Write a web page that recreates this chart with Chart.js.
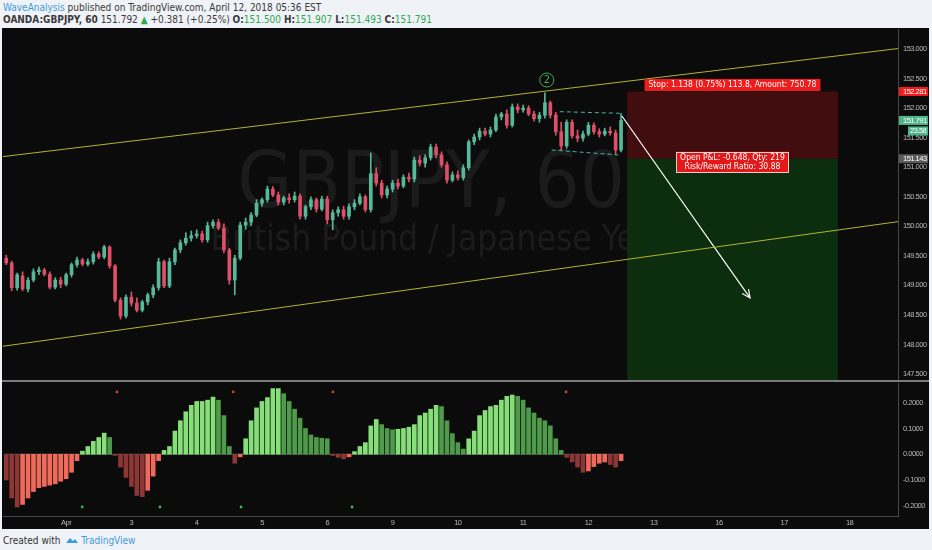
<!DOCTYPE html>
<html lang="en">
<head>
  <meta charset="UTF-8" />
  <title>GBPJPY, 60</title>
  <script src="https://cdn.jsdelivr.net/npm/chart.js"></script>
  <style>
    body { margin: 0; width: 932px; height: 550px; overflow: hidden; position: relative;
           background: #eff2f6; font-family: "Liberation Sans Narrow", "DejaVu Sans Condensed", sans-serif; }
    .hdr { position: absolute; left: 3px; font-size: 10px; color: #3a3a3a; white-space: nowrap; }
    .up { color: #2fa84f; }
    .blue { color: #3d9be0; }
    #frame { position: absolute; left: 2px; top: 28px; width: 927px; height: 501px; background: #0b0b0b; }
    #sep { position: absolute; left: 2px; top: 380px; width: 927px; height: 2px; background: #7a7a7a; }
    canvas { position: absolute; left: 0; }
    #foot { position: absolute; left: 3px; top: 535px; font-size: 10px; color: #333; white-space: nowrap; }
  </style>
</head>
<body>

  <div class="hdr" style="top: 2px;"><span class="blue">WaveAnalysis</span> published on TradingView.com, April 12, 2018 05:36 EST</div>
  <div class="hdr" style="top: 14px;"><b>OANDA:GBPJPY, 60</b> 151.792 <span class="up">&#9650;</span> +0.381 (+0.25%) <b>O:</b><span class="up">151.500</span> <b>H:</b><span class="up">151.907</span> <b>L:</b><span class="up">151.493</span> <b>C:</b><span class="up">151.791</span></div>

  <div id="frame"></div>
  <canvas id="mainChart" width="932" height="352" style="top: 29px;"></canvas>
  <div id="sep"></div>
  <canvas id="oscChart" width="932" height="146" style="top: 382px;"></canvas>

  <div id="foot">Created with
    <svg width="12" height="9" viewBox="0 0 12 9" style="vertical-align: -1px; margin-left: 3px;">
      <path d="M0 7 L4 2 L7 5 L9 3 L12 7 Z" fill="#3d9be0" />
    </svg>
    <span class="blue">TradingView</span></div>

  <script>
    // ---- data (hours counted on trading time from Apr 2 00:00) ----
    const candleStart = -22;
    const candleStep = 2;

    const candleOpen = [
      149.46, 149.38, 148.96, 149.16, 148.94, 149.09, 149.23, 149.26, 149.19, 148.97, 149.09,
      149.02, 149.18, 149.35, 149.43, 149.36, 149.40, 149.53, 149.48, 149.65, 149.33,
      148.75, 148.48, 148.80, 148.70, 148.58, 148.72, 148.84, 148.96, 149.40, 148.99,
      149.40, 149.60, 149.72, 149.80, 149.84, 149.87, 149.77, 150.01, 150.07, 149.97,
      149.60, 149.09, 149.46, 150.02, 150.07, 150.19, 150.39, 150.45, 150.63, 150.53,
      150.41, 150.48, 150.45, 150.51, 150.17, 150.33, 150.45, 150.29, 150.46, 150.11,
      150.23, 150.28, 150.17, 150.33, 150.39, 150.50, 150.28, 150.89, 150.73, 150.53,
      150.63, 150.73, 150.68, 150.83, 150.80, 151.12, 151.07, 151.16, 151.34, 151.21,
      151.04, 150.78, 150.87, 150.82, 150.99, 151.43, 151.51, 151.61, 151.56, 151.63,
      151.85, 151.90, 151.71, 152.02, 151.97, 152.00, 151.90, 151.82, 151.88, 152.09,
      151.88, 151.60, 151.36, 151.76, 151.53, 151.49, 151.56, 151.71, 151.60, 151.56,
      151.61, 151.58, 151.29
    ];
    const candleHigh = [
      149.51, 149.41, 149.21, 149.23, 149.13, 149.28, 149.31, 149.29, 149.23, 149.13, 149.14,
      149.21, 149.38, 149.48, 149.46, 149.45, 149.57, 149.57, 149.68, 149.67, 149.35,
      148.79, 148.84, 148.89, 148.79, 148.75, 148.87, 149.01, 149.46, 149.43, 149.46,
      149.63, 149.77, 149.89, 149.92, 149.94, 149.92, 150.07, 150.11, 150.12, 150.04,
      149.63, 149.51, 150.07, 150.14, 150.23, 150.45, 150.48, 150.68, 150.67, 150.58,
      150.51, 150.55, 150.58, 150.55, 150.36, 150.50, 150.48, 150.51, 150.51, 150.28,
      150.33, 150.34, 150.38, 150.45, 150.55, 150.53, 151.24, 150.99, 150.78, 150.68,
      150.78, 150.80, 150.87, 150.90, 151.17, 151.19, 151.21, 151.39, 151.39, 151.26,
      151.09, 150.92, 150.94, 151.04, 151.46, 151.56, 151.66, 151.66, 151.68, 151.90,
      151.93, 151.97, 152.07, 152.07, 152.05, 152.04, 151.95, 151.93, 152.26, 152.12,
      151.93, 151.76, 151.80, 151.80, 151.63, 151.61, 151.76, 151.75, 151.65, 151.66,
      151.68, 151.63, 151.907
    ];
    const candleLow = [
      149.35, 148.91, 148.92, 148.91, 148.89, 149.06, 149.18, 149.16, 148.94, 148.94, 148.96,
      148.99, 149.14, 149.31, 149.33, 149.33, 149.36, 149.45, 149.45, 149.29, 148.72,
      148.43, 148.45, 148.65, 148.55, 148.55, 148.67, 148.79, 148.92, 148.96, 148.96,
      149.35, 149.55, 149.68, 149.75, 149.80, 149.73, 149.73, 149.97, 149.94, 149.55,
      149.02, 148.84, 149.43, 149.95, 150.01, 150.16, 150.34, 150.41, 150.50, 150.36,
      150.36, 150.39, 150.41, 150.12, 150.12, 150.28, 150.24, 150.26, 150.04, 149.94,
      150.17, 150.12, 150.12, 150.28, 150.36, 150.24, 150.24, 150.68, 150.48, 150.48,
      150.58, 150.63, 150.65, 150.75, 150.75, 151.02, 151.00, 151.12, 151.16, 151.00,
      150.73, 150.75, 150.78, 150.78, 150.95, 151.38, 151.46, 151.53, 151.51, 151.60,
      151.80, 151.66, 151.68, 151.92, 151.93, 151.87, 151.78, 151.76, 151.83, 151.83,
      151.54, 151.29, 151.32, 151.49, 151.43, 151.44, 151.53, 151.56, 151.51, 151.53,
      151.54, 151.22, 151.26
    ];
    const candleClose = [
      149.38, 148.96, 149.18, 148.94, 149.09, 149.23, 149.26, 149.19, 148.97, 149.09, 149.02,
      149.18, 149.35, 149.43, 149.36, 149.40, 149.53, 149.48, 149.65, 149.33, 148.75,
      148.48, 148.80, 148.70, 148.58, 148.72, 148.84, 148.96, 149.40, 148.99, 149.40,
      149.60, 149.72, 149.80, 149.84, 149.87, 149.77, 150.01, 150.07, 149.97, 149.60,
      149.09, 149.46, 150.02, 150.07, 150.19, 150.39, 150.45, 150.63, 150.53, 150.41,
      150.48, 150.45, 150.51, 150.17, 150.33, 150.45, 150.29, 150.46, 150.11, 150.23,
      150.28, 150.17, 150.33, 150.39, 150.50, 150.28, 150.89, 150.73, 150.53, 150.63,
      150.73, 150.68, 150.83, 150.80, 151.12, 151.07, 151.16, 151.34, 151.21, 151.04,
      150.78, 150.87, 150.82, 150.99, 151.43, 151.51, 151.61, 151.56, 151.63, 151.85,
      151.90, 151.71, 152.02, 151.97, 152.00, 151.90, 151.82, 151.88, 152.09, 151.88,
      151.60, 151.36, 151.76, 151.53, 151.49, 151.56, 151.71, 151.60, 151.56, 151.61,
      151.58, 151.29, 151.791
    ];

    const oscValues = [
      -0.10, -0.17, -0.205, -0.195, -0.17, -0.145, -0.13, -0.125, -0.12, -0.115, -0.105,
      -0.095, -0.07, -0.025, 0.012, 0.03, 0.05, 0.065, 0.082, 0.065, -0.005,
      -0.05, -0.09, -0.125, -0.16, -0.165, -0.14, -0.085, -0.025, 0.015, 0.03,
      0.09, 0.13, 0.165, 0.19, 0.205, 0.205, 0.21, 0.222, 0.21, 0.15,
      0.03, -0.035, -0.01, 0.06, 0.13, 0.18, 0.205, 0.22, 0.255, 0.255,
      0.235, 0.205, 0.175, 0.14, 0.10, 0.075, 0.065, 0.062, 0.06, -0.005,
      -0.012, -0.018, -0.01, 0.01, 0.03, 0.045, 0.11, 0.135, 0.115, 0.10,
      0.095, 0.097, 0.10, 0.105, 0.115, 0.15, 0.16, 0.175, 0.19, 0.185,
      0.13, 0.08, 0.045, 0.02, 0.06, 0.09, 0.15, 0.17, 0.185, 0.19,
      0.21, 0.225, 0.23, 0.225, 0.21, 0.18, 0.16, 0.14, 0.13, 0.11,
      0.06, 0.015, -0.012, -0.03, -0.05, -0.07, -0.065, -0.048, -0.035, -0.03,
      -0.04, -0.05, -0.025
    ];
    const oscTopDots = [18.7, 61.4, 98.1, 183.8];
    const oscTopDotValue = 0.242;
    const oscBottomDots = [5.9, 34.5, 64.3, 105.1];
    const oscBottomDotValue = -0.205;

    const dayTicks = [0, 24, 48, 72, 96, 120, 144, 168, 192, 216, 240, 264, 288];
    const dayLabels = ["Apr", "3", "4", "5", "6", "9", "10", "11", "12", "13", "16", "17", "18"];
    const priceTicks = [147.5, 148, 148.5, 149, 149.5, 150, 150.5, 151, 151.5, 152, 152.5, 153];
    const oscTicks = [-0.2, -0.1, 0, 0.1, 0.2];

    // drawings on the price pane
    const upperTrend = [{ x: -23.2, y: 151.179 }, { x: 305.8, y: 153.007 }];
    const lowerTrend = [{ x: -23.2, y: 147.970 }, { x: 305.8, y: 150.078 }];
    const flagTop = [{ x: 181.5, y: 151.939 }, { x: 203.6, y: 151.912 }];
    const flagBottom = [{ x: 178.5, y: 151.291 }, { x: 203.0, y: 151.207 }];
    const arrowPath = [{ x: 204.3, y: 151.866 }, { x: 251.4, y: 148.787 }];
    const waveMark = { x: 176.7, y: 152.475, text: "2" };
    const position = { from: 206.2, to: 283.7, stop: 152.281, entry: 151.143, target: 147.0 };
    const stopText = "Stop: 1.138 (0.75%) 113.8, Amount: 750.78";
    const pnlText = ["Open P&L: -0.648, Qty: 219", "Risk/Reward Ratio: 30.88"];
    const lastPrice = 151.791;
    const countdownText = "23.58";
    const symbolText = "GBPJPY, 60";
    const descText = "British Pound / Japanese Yen";

    // ---- styles ----
    const xMin = -23.2, xMax = 305.8;
    const narrow = '"Liberation Sans Narrow", "DejaVu Sans Condensed", sans-serif';
    const tickFont = '"Liberation Sans", Arial, sans-serif';
    const axisColor = "#b8b8b8";
    const upColor = "#56b99a";
    const downColor = "#de5068";

    const hours = candleOpen.map((_, i) => candleStart + i * candleStep);
    const candleColor = (i) => candleClose[i] >= candleOpen[i] ? upColor : downColor;

    function lineSet(points, color, extra) {
      return Object.assign({
        type: "line", data: points, borderColor: color, borderWidth: 1,
        pointRadius: 0, pointHoverRadius: 0, fill: false, tension: 0, order: 1
      }, extra || {});
    }

    // axes keep the pane edges exactly where the picture has them
    function fixWidth(s) { s.width = 34; s.paddingTop = 0; s.paddingBottom = 0; }
    function fixHeight(s) { s.height = 12; s.paddingLeft = 0; s.paddingRight = 0; }

    // tighter letters for the small axis text, like the narrow face in the picture
    const condense = {
      id: "condense",
      beforeDraw(chart) { chart.ctx.letterSpacing = "-0.5px"; }
    };

    function labelBox(ctx, cx, cy, lines, bg, border) {
      ctx.font = "8.5px " + narrow;
      const w = Math.max(...lines.map(t => ctx.measureText(t).width)) + 8;
      const h = lines.length * 9 + 3;
      ctx.fillStyle = bg;
      ctx.fillRect(cx - w / 2, cy - h / 2, w, h);
      if (border) {
        ctx.strokeStyle = border;
        ctx.lineWidth = 1;
        ctx.strokeRect(Math.round(cx - w / 2) + 0.5, Math.round(cy - h / 2) + 0.5, Math.round(w) - 1, h - 1);
      }
      ctx.fillStyle = "#ffffff";
      ctx.textAlign = "center";
      ctx.textBaseline = "middle";
      lines.forEach((t, i) => ctx.fillText(t, cx, cy - h / 2 + 6 + i * 9));
    }

    function axisTag(ctx, chart, value, text, bg, left, dy) {
      const y = chart.scales.y.getPixelForValue(value) + (dy || 0);
      const right = chart.chartArea.right;
      ctx.fillStyle = bg;
      ctx.fillRect(right + (left || 1), y - 4.5, 30 - (left || 1), 9);
      ctx.fillStyle = "#ffffff";
      ctx.font = "7.5px " + tickFont;
      ctx.letterSpacing = "-0.5px";
      ctx.textAlign = "left";
      ctx.textBaseline = "middle";
      ctx.fillText(text, right + (left ? left + 2 : 5), y + 0.5);
    }

    const paneOverlay = {
      id: "paneOverlay",
      beforeDatasetsDraw(chart) {
        const ctx = chart.ctx;
        ctx.save();
        ctx.letterSpacing = "0px";
        ctx.fillStyle = "rgba(255,255,255,0.065)";
        ctx.textAlign = "center";
        ctx.textBaseline = "alphabetic";
        ctx.font = "79px " + narrow;
        ctx.fillText(symbolText, 431, 178);
        ctx.font = "35px " + narrow;
        ctx.fillText(descText, 433, 221);
        ctx.restore();
      },
      afterDatasetsDraw(chart) {
        const ctx = chart.ctx;
        const { x, y } = chart.scales;
        ctx.save();
        ctx.letterSpacing = "0px";

        // arrow head
        const pts = chart.getDatasetMeta(chart.data.datasets.findIndex(d => d.id === "arrow")).data;
        const a = pts[0], b = pts[1];
        const ang = Math.atan2(b.y - a.y, b.x - a.x);
        ctx.strokeStyle = "#ffffff";
        ctx.lineWidth = 1.2;
        ctx.beginPath();
        ctx.moveTo(b.x - 9 * Math.cos(ang - 0.45), b.y - 9 * Math.sin(ang - 0.45));
        ctx.lineTo(b.x, b.y);
        ctx.lineTo(b.x - 9 * Math.cos(ang + 0.45), b.y - 9 * Math.sin(ang + 0.45));
        ctx.stroke();

        // wave count
        const wx = x.getPixelForValue(waveMark.x), wy = y.getPixelForValue(waveMark.y);
        ctx.strokeStyle = "#3fae5a";
        ctx.lineWidth = 1;
        ctx.beginPath();
        ctx.arc(wx, wy, 7, 0, Math.PI * 2);
        ctx.stroke();
        ctx.fillStyle = "#3fae5a";
        ctx.font = "11px " + narrow;
        ctx.textAlign = "center";
        ctx.textBaseline = "middle";
        ctx.fillText(waveMark.text, wx, wy + 0.5);

        // position labels
        const cx = (x.getPixelForValue(position.from) + x.getPixelForValue(position.to)) / 2;
        labelBox(ctx, cx, y.getPixelForValue(position.stop) - 6.5, [stopText], "#f01c1c");
        labelBox(ctx, cx, y.getPixelForValue(position.entry) + 3.5, pnlText, "#e31818", "#f3c9c9");
        ctx.restore();
      },
      afterDraw(chart) {
        const ctx = chart.ctx;
        ctx.save();
        axisTag(ctx, chart, position.stop, position.stop.toFixed(3), "#f21a1a");
        axisTag(ctx, chart, lastPrice, lastPrice.toFixed(3), "#4fb38c");
        axisTag(ctx, chart, lastPrice, countdownText, "#4fb38c", 10, 10.5);
        axisTag(ctx, chart, position.entry, position.entry.toFixed(3), "#5a5a5a");
        ctx.restore();
      }
    };

    new Chart(document.getElementById("mainChart"), {
      type: "bar",
      data: {
        datasets: [
          lineSet([{ x: position.from, y: position.stop }, { x: position.to, y: position.stop }], "#420d0e",
            { borderWidth: 0, fill: { value: position.entry }, backgroundColor: "#420d0e", order: 20 }),
          lineSet([{ x: position.from, y: position.entry }, { x: position.to, y: position.entry }], "#0c2e0f",
            { borderWidth: 0, fill: { value: position.target }, backgroundColor: "#0c2e0f", order: 19 }),
          {
            data: hours.map((h, i) => ({ x: h, y: [candleLow[i], candleHigh[i]] })),
            backgroundColor: (c) => candleColor(c.dataIndex),
            barThickness: 1, grouped: false, order: 6
          },
          {
            data: hours.map((h, i) => ({ x: h, y: [candleOpen[i], candleClose[i]] })),
            backgroundColor: (c) => candleColor(c.dataIndex),
            barThickness: 3, minBarLength: 1, grouped: false, order: 5
          },
          lineSet(upperTrend, "#b3b332"),
          lineSet(lowerTrend, "#b3b332"),
          lineSet(flagTop, "#46b7aa", { borderDash: [4, 3] }),
          lineSet(flagBottom, "#46b7aa", { borderDash: [4, 3] }),
          lineSet(arrowPath, "#ffffff", { id: "arrow", borderWidth: 1.2 })
        ]
      },
      options: {
        responsive: false,
        animation: false,
        events: [],
        layout: { autoPadding: false, padding: { left: 3, top: 0, right: 0, bottom: 0 } },
        plugins: { legend: { display: false }, tooltip: { enabled: false } },
        scales: {
          x: { type: "linear", min: xMin, max: xMax, offset: false, display: false },
          y: {
            type: "linear", position: "right", min: 147.382, max: 153.338, beginAtZero: false,
            afterBuildTicks: (s) => { s.ticks = priceTicks.map(v => ({ value: v })); },
            afterFit: fixWidth,
            grid: { display: false, drawTicks: false },
            border: { display: true, color: "#474747" },
            ticks: { color: axisColor, padding: 5, font: { family: tickFont, size: 7.5 }, callback: (v) => Number(v).toFixed(3) }
          }
        }
      },
      plugins: [condense, paneOverlay]
    });

    // ---- oscillator pane ----
    const oscColor = (i) => {
      const v = oscValues[i];
      const prev = i > 0 ? oscValues[i - 1] : v;
      if (v >= 0) return v >= prev ? "#86df78" : "#4f9b4b";
      return v <= prev ? "#8c3636" : "#ee6b5c";
    };

    new Chart(document.getElementById("oscChart"), {
      type: "bar",
      data: {
        datasets: [
          {
            data: hours.map((h, i) => ({ x: h, y: oscValues[i] })),
            backgroundColor: (c) => oscColor(c.dataIndex),
            barThickness: 4, grouped: false, order: 5
          },
          lineSet([{ x: hours[0], y: 0 }, { x: hours[hours.length - 1], y: 0 }], "#4a4a4a", { order: 6 }),
          lineSet(oscTopDots.map(h => ({ x: h, y: oscTopDotValue })), "#c24545",
            { showLine: false, pointRadius: 1.4, pointBackgroundColor: "#c24545", pointBorderWidth: 0 }),
          lineSet(oscBottomDots.map(h => ({ x: h, y: oscBottomDotValue })), "#4caf50",
            { showLine: false, pointRadius: 1.4, pointBackgroundColor: "#4caf50", pointBorderWidth: 0 })
        ]
      },
      options: {
        responsive: false,
        animation: false,
        events: [],
        layout: { autoPadding: false, padding: { left: 3, top: 1, right: 0, bottom: 0 } },
        plugins: { legend: { display: false }, tooltip: { enabled: false } },
        scales: {
          x: {
            type: "linear", min: xMin, max: xMax, offset: false,
            afterBuildTicks: (s) => { s.ticks = dayTicks.map(v => ({ value: v })); },
            afterFit: fixHeight,
            grid: { display: false, drawTicks: false },
            border: { display: true, color: "#474747" },
            ticks: { color: axisColor, padding: 2, autoSkip: false, maxRotation: 0,
                     font: { family: tickFont, size: 7.5 }, callback: (v, i) => dayLabels[i] }
          },
          y: {
            type: "linear", position: "right", min: -0.2399, max: 0.2767, beginAtZero: false,
            afterBuildTicks: (s) => { s.ticks = oscTicks.map(v => ({ value: v })); },
            afterFit: fixWidth,
            grid: { display: false, drawTicks: false },
            border: { display: true, color: "#474747" },
            ticks: { color: axisColor, padding: 5, font: { family: tickFont, size: 7.5 }, callback: (v) => Number(v).toFixed(4) }
          }
        }
      },
      plugins: [condense]
    });
  </script>

</body>
</html>
